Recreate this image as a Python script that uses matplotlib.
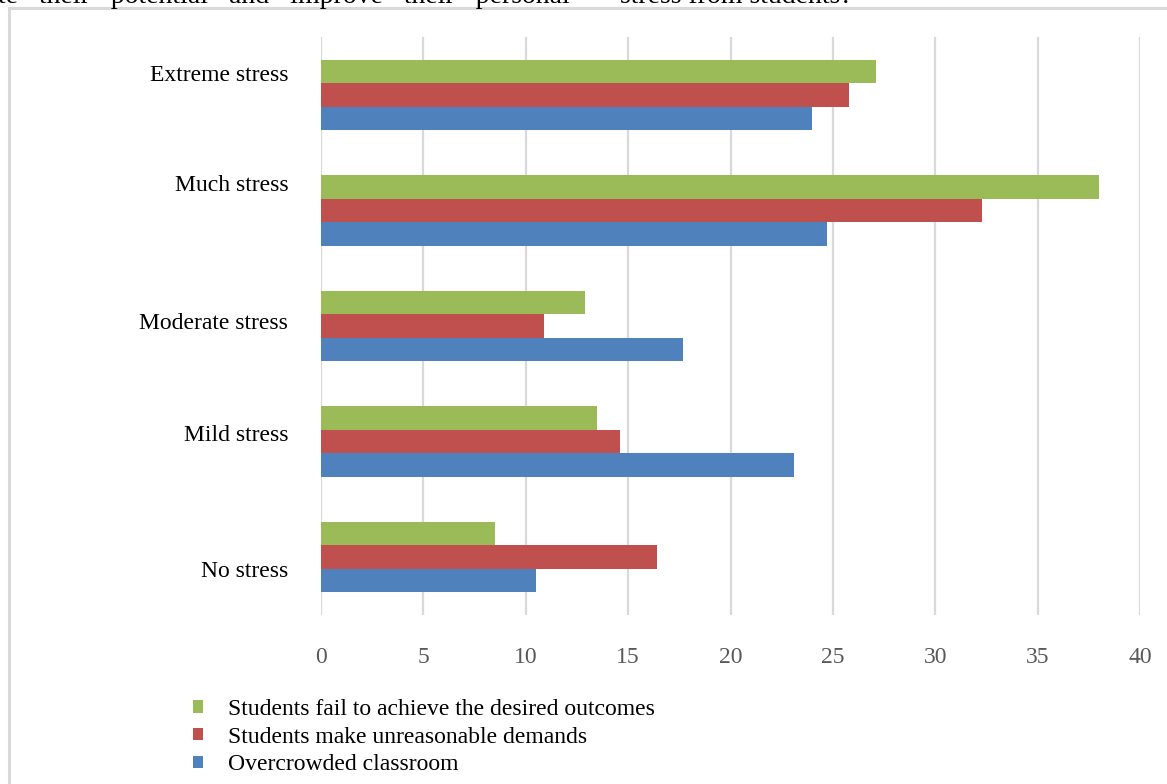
import matplotlib
matplotlib.use("Agg")
import matplotlib.pyplot as plt
import matplotlib.transforms as mtransforms
from matplotlib.patches import Patch, Rectangle
import numpy as np

# ---------------- data ----------------
categories = ["No stress", "Mild stress", "Moderate stress", "Much stress", "Extreme stress"]
overcrowded = [10.5, 23.1, 17.7, 24.7, 24.0]
unreasonable = [16.4, 14.6, 10.9, 32.3, 25.8]
fail_outcomes = [8.5, 13.5, 12.9, 38.0, 27.1]
series_names = ["Students fail to achieve the desired outcomes",
                "Students make unreasonable demands",
                "Overcrowded classroom"]
xticks = [0, 5, 10, 15, 20, 25, 30, 35, 40]

# ---------------- style ----------------
W, H = 1167, 784
DPI = 100
GREEN, RED, BLUE = "#9BBB59", "#C0504D", "#4F81BD"
SERIF = ["Liberation Serif", "DejaVu Serif"]
FS = 17

fig = plt.figure(figsize=(W / DPI, H / DPI), dpi=DPI)
fig.patch.set_facecolor("white")

# chart frame (grey border, cut on right/bottom)
fig.patches.append(Rectangle((9 / W, -0.1), 1.2, 1 - 8 / H + 0.1,
                             transform=fig.transFigure, fill=False,
                             edgecolor="#d9d9d9", linewidth=2.2))

# cropped document text at the very top
fig.text(-2 / W, 1 - 3 / H, "te   their   potential   and   improve   their   personal",
         family=SERIF, fontsize=20, va="baseline", ha="left", color="black")
fig.text(620 / W, 1 - 3 / H, "stress from students?",
         family=SERIF, fontsize=20, va="baseline", ha="left", color="black")

left, right, top, bottom = 321, 1140, 37, 615
ax = fig.add_axes([left / W, 1 - bottom / H, (right - left) / W, (bottom - top) / H])

y = np.arange(len(categories))
h = 0.203
ax.barh(y + h, fail_outcomes, height=h, color=GREEN, label=series_names[0], zorder=3)
ax.barh(y, unreasonable, height=h, color=RED, label=series_names[1], zorder=3)
ax.barh(y - h, overcrowded, height=h, color=BLUE, label=series_names[2], zorder=3)

ax.set_xlim(0, 40)
ax.set_ylim(-0.5, len(categories) - 0.5)
ax.set_xticks(xticks)
ax.set_xticklabels([str(t) for t in xticks], family=SERIF, fontsize=FS, color="#595959")
ax.set_yticks(y)
ax.set_yticklabels(categories, family=SERIF, fontsize=FS, color="black")
ax.tick_params(axis="x", length=0, pad=23)
ax.tick_params(axis="y", length=0, pad=23.5)
for s in ax.spines.values():
    s.set_visible(False)
ax.grid(axis="x", color="#d9d9d9", linewidth=1.6, zorder=0)
ax.grid(axis="y", visible=False)
ax.set_axisbelow(True)

# individual label offsets (pixels downward) as in the reference
label_offsets = [11.5, -9, -5, -27.5, -22]
for lab, off in zip(ax.get_yticklabels(), label_offsets):
    lab.set_transform(lab.get_transform() +
                      mtransforms.ScaledTranslation(0, -off / DPI, fig.dpi_scale_trans))

handles = [Patch(facecolor=GREEN), Patch(facecolor=RED), Patch(facecolor=BLUE)]
leg = fig.legend(handles, series_names, loc="upper left",
                 bbox_to_anchor=(193 / W, 1 - 699 / H),
                 frameon=False, prop={"family": SERIF, "size": FS},
                 handlelength=0.43, handleheight=0.43, handletextpad=1.05,
                 labelspacing=0.28, borderpad=0, borderaxespad=0)

fig.savefig("out.png", dpi=DPI, facecolor="white")
